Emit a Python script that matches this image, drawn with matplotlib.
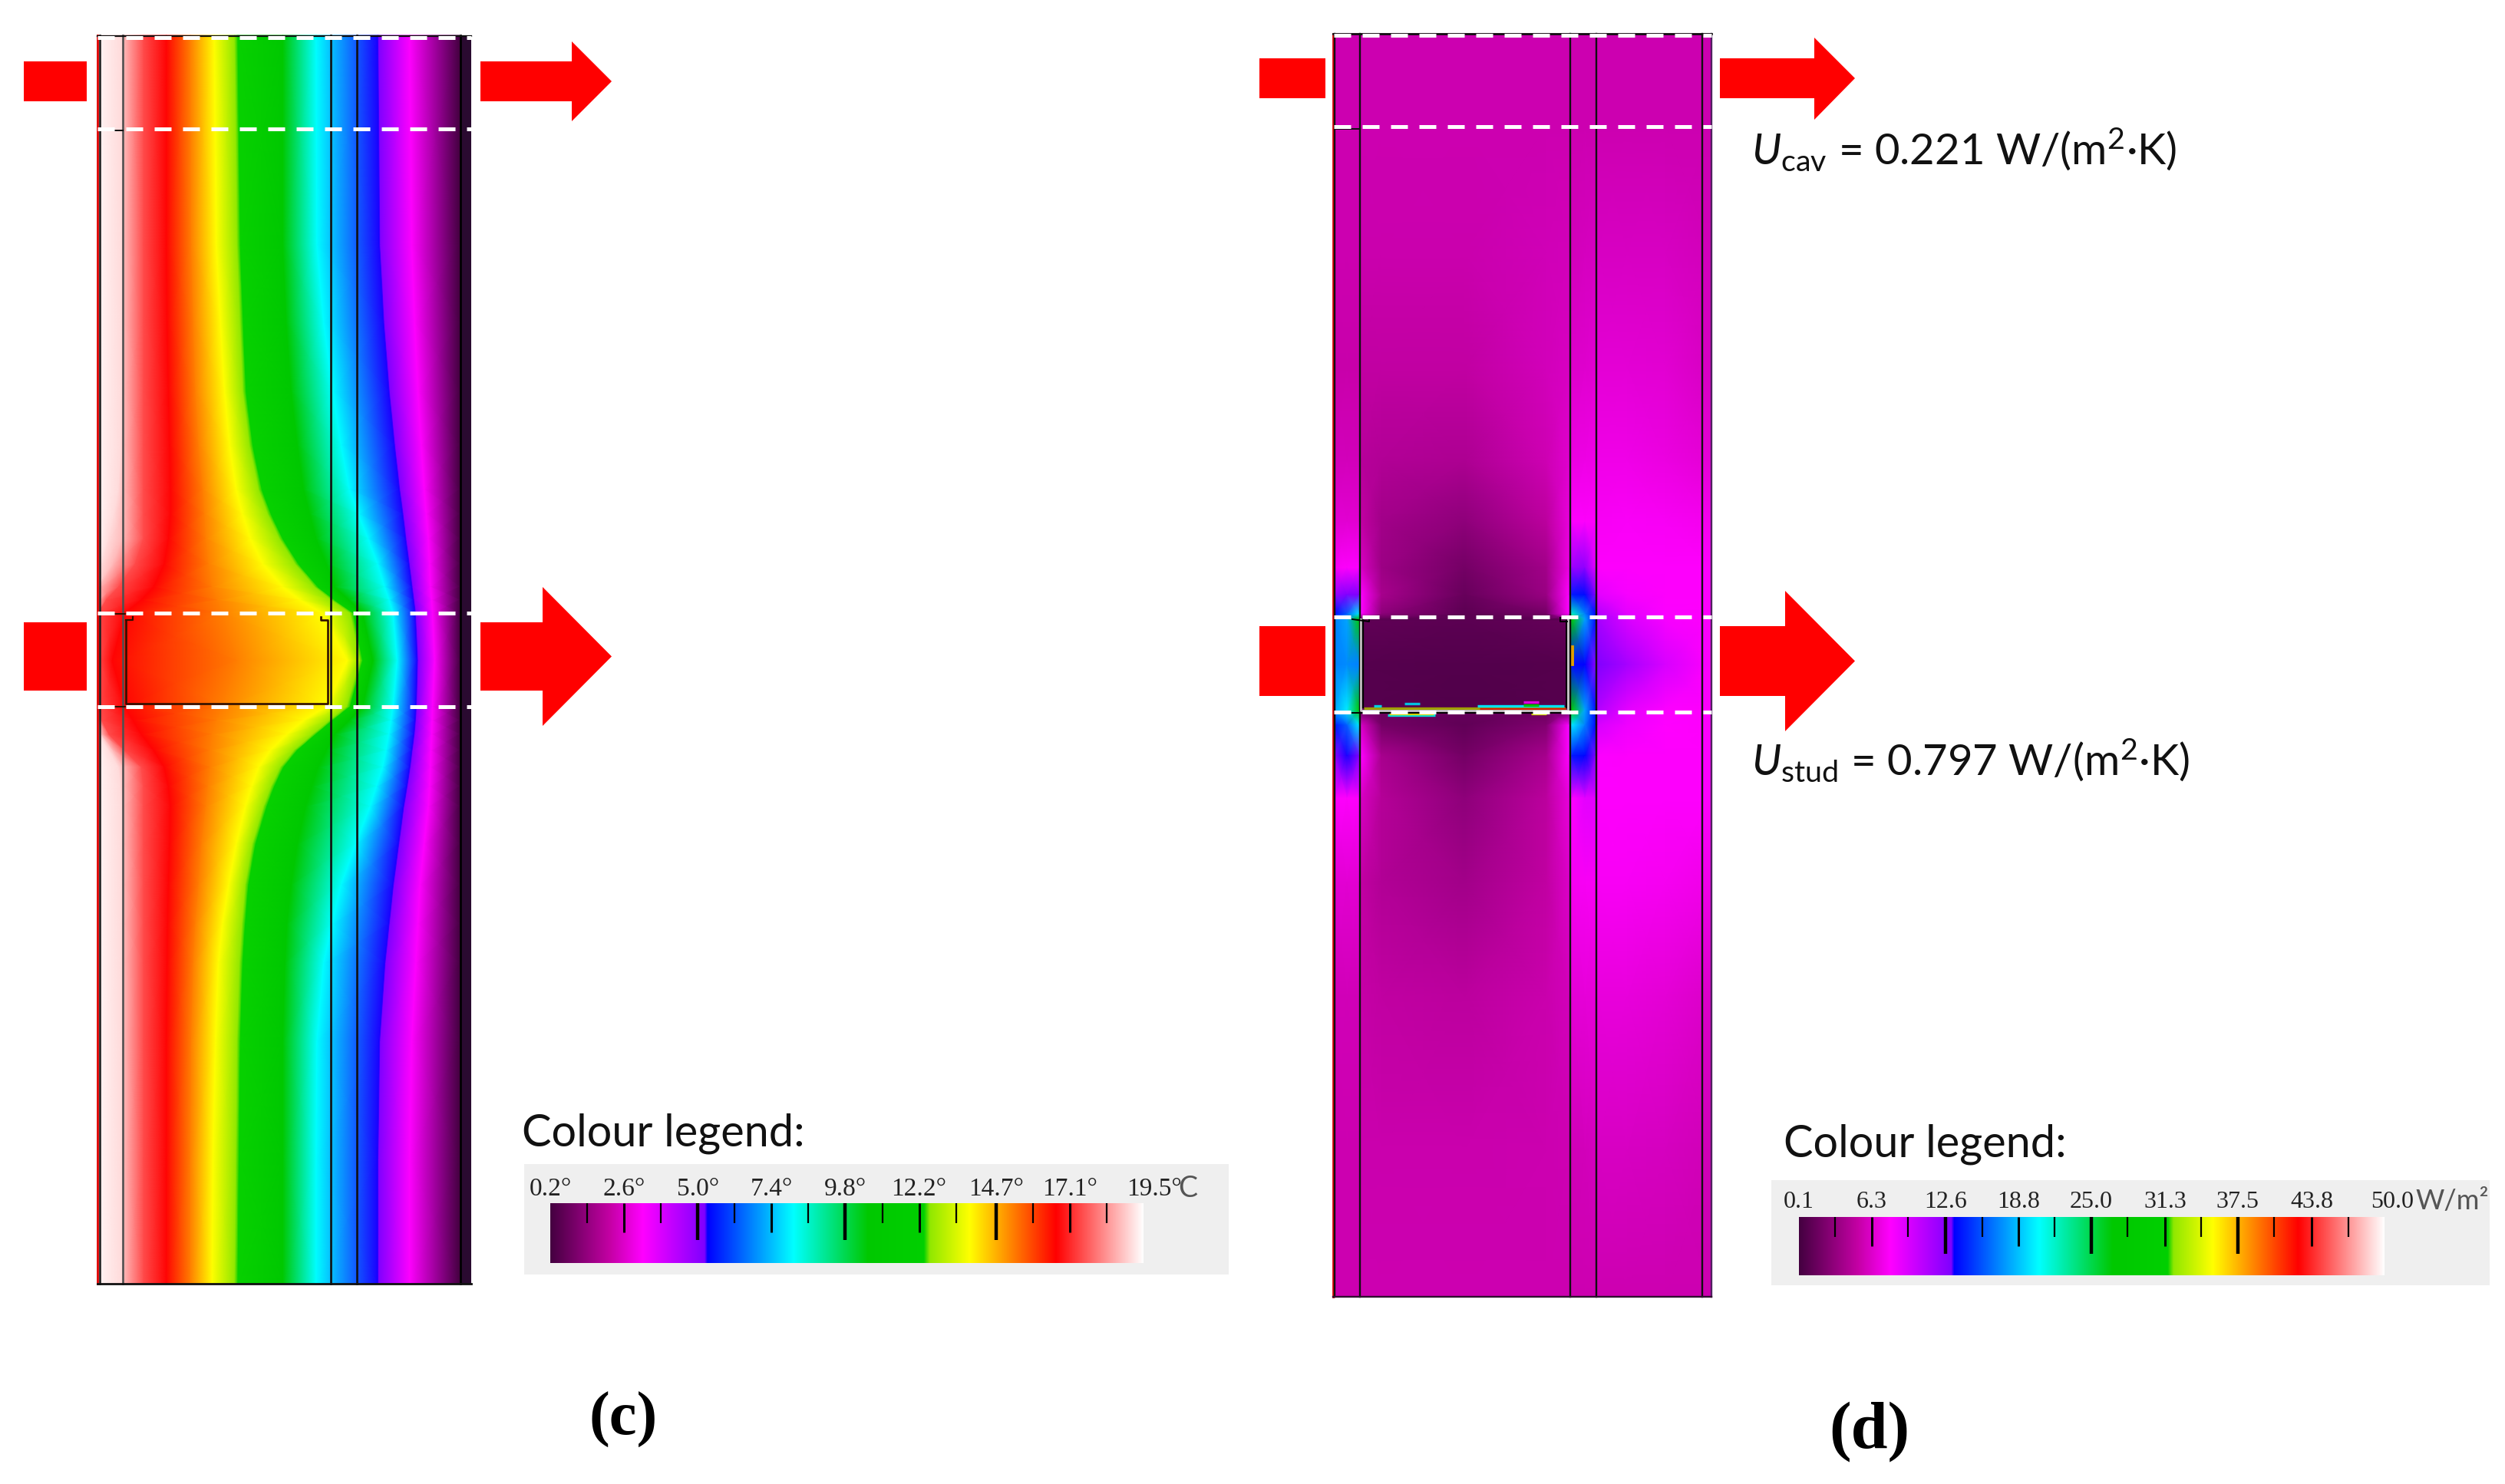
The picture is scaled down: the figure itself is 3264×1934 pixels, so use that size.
import numpy as np
import matplotlib
matplotlib.use("Agg")
import matplotlib.pyplot as plt
from matplotlib.colors import LinearSegmentedColormap, Normalize
from matplotlib.patches import Rectangle

plt.rcParams["font.family"] = ["Lato", "DejaVu Sans"]
plt.rcParams["mathtext.fontset"] = "custom"
plt.rcParams["mathtext.rm"] = "Lato"
plt.rcParams["mathtext.it"] = "Lato:italic"

W, H = 3264, 1934
SERIF = "Liberation Serif"

# colour scale shared by both legends (fraction of range, colour)
scale_pos = [0, .10, .156, .26, .265, .41, .536, .63, .64, .707, .853, 1.0]
scale_col = ["#440040", "#c400a4", "#ff00ff", "#7f00ff", "#0000ff", "#00ffff", "#00c800",
             "#00d000", "#90e800", "#ffff00", "#ff0000", "#ffffff"]
thermal = LinearSegmentedColormap.from_list("thermal", list(zip(scale_pos, scale_col)), N=1024)

# panel (c): x position of each isotherm, read per row (units of the zoomed crop)
ISO_SCALE = 1.845
iso_rows = [46, 319, 420, 510, 580, 638, 670, 702, 735, 765, 782, 799, 861, 921, 939, 957, 978, 1000,
            1025, 1051, 1100, 1153, 1204, 1255, 1357, 1510, 1673]
iso_temps = [19.35, 19.1, 18.7, 17.5, 16.7, 15.25, 13.85, 12.55, 12.36, 10.55, 8.1, 5.3, 5.2, 3.2, 0.2]
iso_193 = [237] * 27
iso_191 = [293, 293, 293, 293, 291, 285, 275, 262, 245, 237, 237, 237, 237, 237, 237, 240, 262, 285,
           290, 293, 293, 293, 293, 293, 293, 293, 293]
iso_187 = [298, 298, 298, 298, 298, 298, 298, 296, 272, 240, 237, 237, 237, 237, 237, 245, 272, 298,
           298, 298, 298, 298, 298, 298, 298, 298, 298]
iso_175 = [345, 345, 345, 345, 345, 345, 345, 345, 325, 285, 255, 237, 237, 237, 245, 262, 300, 340,
           345, 345, 345, 345, 345, 345, 345, 345, 345]
iso_167 = [400, 400, 402, 405, 408, 410, 410, 405, 395, 370, 340, 300, 270, 300, 320, 340, 370, 395,
           405, 410, 408, 405, 403, 402, 400, 400, 400]
iso_152 = [458, 460, 465, 470, 478, 488, 492, 495, 502, 510, 522, 535, 570, 535, 520, 510, 505, 505,
           500, 495, 485, 478, 470, 465, 460, 458, 458]
iso_138 = [515, 520, 530, 540, 552, 568, 583, 602, 632, 680, 722, 775, 835, 785, 730, 690, 650, 622,
           605, 590, 568, 550, 535, 525, 518, 512, 510]
iso_125 = [564, 570, 577, 584, 600, 622, 644, 672, 710, 757, 797, 842, 865, 834, 792, 752, 707, 674,
           652, 634, 607, 590, 582, 576, 570, 567, 564]
iso_123 = [572, 578, 585, 592, 608, 630, 652, 680, 718, 765, 805, 850, 872, 842, 800, 760, 715, 682,
           660, 642, 615, 598, 590, 584, 578, 575, 572]
iso_105 = [680, 680, 688, 700, 715, 730, 745, 760, 785, 805, 840, 872, 897, 872, 840, 805, 785, 765,
           750, 735, 715, 700, 690, 685, 680, 680, 680]
iso_081 = [760, 762, 778, 800, 820, 840, 862, 885, 908, 925, 936, 945, 955, 945, 940, 935, 928, 920,
           905, 890, 855, 820, 798, 778, 762, 760, 760]
iso_053 = [908, 912, 922, 935, 948, 960, 968, 975, 983, 990, 994, 998, 1003, 1000, 998, 995, 990, 985,
           978, 970, 958, 945, 935, 925, 912, 908, 908]
iso_052 = [911, 915, 925, 938, 951, 963, 971, 978, 986, 993, 997, 1001, 1006, 1003, 1001, 998, 993, 988,
           981, 973, 961, 948, 938, 928, 915, 911, 911]
iso_032 = [985, 990, 997, 1005, 1013, 1020, 1025, 1030, 1033, 1035, 1038, 1040, 1045, 1040, 1039, 1038, 1036, 1035,
           1033, 1030, 1020, 1010, 1005, 1000, 990, 985, 985]
iso_002 = [1105] * 27

# panel (d): heat flux in W/m2 at grid nodes
flux_x = [1739, 1755, 1771, 1774, 1800, 1908, 2015, 2044, 2048, 2065, 2079, 2082, 2120, 2170, 2230]
flux_y = [44, 165, 330, 480, 600, 680, 740, 775, 800, 807, 866, 925, 945, 985, 1040, 1150, 1300, 1500, 1690]
flux_vals = [
    [5.5, 5.5, 5.5, 5.5, 5.5, 5.5, 5.5, 5.5, 5.5, 5.5, 5.5, 5.5, 5.5, 5.5, 5.5],
    [5.5, 5.5, 5.5, 5.5, 5.5, 5.5, 5.5, 5.5, 5.5, 5.5, 5.5, 5.5, 5.5, 5.5, 5.5],
    [5.5, 5.5, 5.5, 5.4, 5.4, 5.4, 5.7, 5.8, 5.8, 5.9, 6.0, 6.0, 6.0, 6.0, 5.8],
    [5.3, 5.3, 5.3, 5.0, 5.0, 5.0, 5.8, 6.0, 6.3, 6.4, 6.5, 6.6, 6.6, 6.5, 6.0],
    [5.8, 5.8, 5.8, 4.6, 4.4, 4.2, 5.6, 6.4, 7.0, 7.1, 7.2, 7.2, 7.2, 7.0, 6.6],
    [6.5, 6.5, 6.5, 5.0, 3.8, 3.0, 4.8, 6.8, 7.8, 7.8, 7.8, 7.6, 7.7, 7.6, 7.4],
    [7.6, 7.8, 8.0, 6.0, 3.6, 2.0, 3.8, 7.0, 12.0, 12.5, 9.0, 7.8, 7.8, 7.8, 7.8],
    [12.0, 13.0, 13.0, 7.8, 4.0, 1.5, 3.5, 7.8, 14.0, 13.6, 13.0, 9.0, 8.2, 7.8, 7.8],
    [13.6, 16.0, 20.0, 7.8, 3.0, 1.0, 2.0, 7.8, 22.0, 17.0, 13.6, 11.0, 9.0, 8.0, 7.8],
    [17.0, 18.0, 28.0, 1.0, 1.0, 1.0, 1.0, 1.0, 30.0, 18.0, 13.8, 11.5, 9.5, 8.2, 7.8],
    [17.0, 17.3, 17.0, 1.0, 1.0, 1.0, 1.0, 1.0, 13.6, 13.4, 12.5, 13.0, 11.5, 9.5, 7.8],
    [18.0, 20.0, 28.0, 1.5, 1.5, 1.5, 1.5, 1.5, 30.0, 18.0, 13.8, 11.0, 9.0, 8.0, 7.8],
    [14.0, 16.0, 20.0, 6.0, 2.0, 1.2, 2.5, 8.0, 20.0, 17.0, 13.6, 9.5, 8.5, 7.9, 7.8],
    [12.5, 13.3, 13.0, 7.8, 4.0, 2.0, 4.0, 7.8, 14.0, 13.5, 13.0, 8.0, 7.8, 7.8, 7.8],
    [7.8, 7.8, 7.8, 6.0, 4.5, 3.0, 4.8, 6.8, 7.9, 9.0, 9.0, 7.8, 7.8, 7.8, 7.8],
    [6.5, 6.5, 6.5, 5.0, 4.4, 3.8, 5.0, 6.2, 7.5, 7.6, 7.6, 7.6, 7.6, 7.5, 7.2],
    [5.7, 5.7, 5.7, 5.2, 5.0, 4.8, 5.4, 5.8, 6.6, 6.7, 6.7, 6.8, 6.8, 6.6, 6.2],
    [5.5, 5.5, 5.5, 5.4, 5.4, 5.4, 5.5, 5.6, 5.7, 5.8, 5.9, 6.0, 6.0, 5.9, 5.7],
    [5.5, 5.5, 5.5, 5.5, 5.5, 5.5, 5.5, 5.5, 5.5, 5.5, 5.5, 5.5, 5.5, 5.5, 5.5],
]
stud_flux_x = [1776, 1908, 2042]
stud_flux_y = [809, 866, 922]
stud_flux = [[1.2, 1.0, 1.4], [0.8, 0.7, 0.8], [0.8, 0.6, 0.8]]

# thin speckled band along the lower flange (x0, x1, y, colour)
speck_x0 = [1777, 1928, 1790, 1830, 1925, 1985, 1985, 1808, 1810, 1995]
speck_x1 = [2040, 2040, 1800, 1850, 2038, 2005, 2005, 1870, 1868, 2015]
speck_y = [923, 924, 920, 917, 920, 915, 919, 932, 930, 930]
speck_col = ["#a0a000", "#d02000", "#00d0e0", "#00c0e0", "#00e0f0", "#e000e0", "#00c000", "#00e0e0", "#d0d000", "#d0d000"]

# legends
temp_labels = ["0.2°", "2.6°", "5.0°", "7.4°", "9.8°", "12.2°", "14.7°", "17.1°"]
temp_label_vals = [0.2, 2.6, 5.0, 7.4, 9.8, 12.2, 14.7, 17.1]
temp_long = [5.0, 9.8, 14.7]
temp_mid = [2.6, 7.4, 12.2, 17.1]
temp_short = [1.4, 3.8, 6.2, 8.6, 11.0, 13.4, 15.9, 18.3]
flux_labels = ["0.1", "6.3", "12.6", "18.8", "25.0", "31.3", "37.5", "43.8"]
flux_label_vals = [0.1, 6.3, 12.6, 18.8, 25.0, 31.3, 37.5, 43.8]
flux_long = [12.6, 25.0, 37.5]
flux_mid = [6.3, 18.8, 31.3, 43.8]
flux_short = [3.2, 9.4, 15.7, 21.9, 28.1, 34.4, 40.6, 46.9]


def red_arrow(ax, x0, x1, xh, y0, y1, ytop, ybot):
    ax.fill([x0, xh, xh, x1, xh, xh, x0], [y0, y0, ytop, (y0 + y1) / 2, ybot, y1, y1],
            color="#ff0000", lw=0, zorder=5)


def dashes(ax, x0, x1, ys):
    for y in ys:
        ax.plot([x0, x1], [y, y], color="white", lw=3.6, ls=(0, (4.4, 3.0)),
                dash_capstyle="butt", zorder=6)


def legend_bar(fig, box, bar, vmin, vmax, long_, mid, short, labels, label_vals, label_y, size):
    # box: grey panel, bar: colour strip, both left, right, top, bottom in pixels
    fig.axes[0].add_patch(Rectangle((box[0], box[2]), box[1] - box[0], box[3] - box[2],
                                    color="#efefef", lw=0, zorder=1))
    bx = fig.add_axes([bar[0] / W, 1 - bar[3] / H, (bar[1] - bar[0]) / W, (bar[3] - bar[2]) / H])
    vals = np.linspace(vmin, vmax, 1024)
    bx.imshow(vals[None, :], cmap=thermal, aspect="auto", extent=[vmin, vmax, 1, 0], vmin=vmin, vmax=vmax)
    hgt = bar[3] - bar[2]
    bx.vlines(short, 0, 26 / hgt, color="black", lw=1.6)
    bx.vlines(mid, 0, 38 / hgt, color="black", lw=2.2)
    bx.vlines(long_, 0, 48 / hgt, color="black", lw=3.2)
    bx.set_xlim(vmin, vmax)
    bx.set_ylim(1, 0)
    bx.axis("off")
    trans = bx.get_xaxis_transform()
    for val, lab in zip(label_vals, labels):
        bx.text(val, 1 + (bar[2] - label_y) / hgt, lab, transform=trans, ha="center", va="center",
                family=SERIF, fontsize=size, color="#222222", clip_on=False)
    return bx


fig = plt.figure(figsize=(W / 100, H / 100), dpi=100, facecolor="white")
ax = fig.add_axes([0, 0, 1, 1])
ax.set_xlim(0, W)
ax.set_ylim(H, 0)
ax.axis("off")

# ---- panel (c)
temp_norm = Normalize(0.2, 19.5)
iso_x = np.array([iso_193, iso_191, iso_187, iso_175, iso_167, iso_152, iso_138, iso_125, iso_123,
                  iso_105, iso_081, iso_053, iso_052, iso_032, iso_002], dtype=float).T / ISO_SCALE
iso_y = np.tile(np.array(iso_rows, dtype=float)[:, None], (1, len(iso_temps)))
iso_c = np.tile(np.array(iso_temps), (len(iso_rows), 1))
ax.pcolormesh(iso_x, iso_y, iso_c, cmap=thermal, norm=temp_norm, shading="gouraud", zorder=2)
ax.add_patch(Rectangle((599, 46), 15, 1627, color="#2a0a30", lw=0, zorder=2))

ax.plot([127, 127], [46, 1673], color="#e00000", lw=2, zorder=3)
for x, col in zip([129.5, 160, 431, 464.5, 600], ["#202020", "#505050", "#101010", "#101010", "#000000"]):
    ax.plot([x, x], [46, 1673], color=col, lw=1.9, zorder=3)
ax.plot([127, 614], [1673, 1673], color="#101010", lw=2, zorder=3)
ax.plot([127, 614], [47, 47], color="#101010", lw=1.6, zorder=3)
ax.plot([129, 160], [170, 170], color="#101010", lw=1.4, zorder=3)
ax.plot([164, 164, 427, 427, 418, 418], [808, 917, 917, 808, 808, 804], color="#301000", lw=1.9, zorder=4)
ax.plot([164, 173, 173], [808, 808, 804], color="#301000", lw=1.6, zorder=4)
ax.plot([129, 163], [800, 800], color="#301000", lw=1.4, zorder=4)
ax.plot([129, 163], [921, 921], color="#301000", lw=1.4, zorder=4)
dashes(ax, 127, 614, [49, 168, 799, 921])

ax.add_patch(Rectangle((31, 80), 82, 52, color="#ff0000", lw=0, zorder=5))
ax.add_patch(Rectangle((31, 811), 82, 89, color="#ff0000", lw=0, zorder=5))
red_arrow(ax, 626, 797, 745, 80, 132, 54, 158)
red_arrow(ax, 626, 797, 707, 811, 900, 765, 946)

# ---- panel (d)
flux_norm = Normalize(0.1, 50.0)
fx, fy = np.meshgrid(flux_x, flux_y)
ax.pcolormesh(fx, fy, np.array(flux_vals), cmap=thermal, norm=flux_norm, shading="gouraud", zorder=2)
sx, sy = np.meshgrid(stud_flux_x, stud_flux_y)
ax.pcolormesh(sx, sy, np.array(stud_flux), cmap=thermal, norm=flux_norm, shading="gouraud", zorder=3)
for x0, x1, y, col in zip(speck_x0, speck_x1, speck_y, speck_col):
    ax.plot([x0, x1], [y, y], color=col, lw=2.4, solid_capstyle="butt", zorder=3)
ax.plot([2048, 2048], [843, 865], color="#e0a000", lw=3.5, zorder=3)

ax.plot([1737, 1737], [44, 1690], color="#e00000", lw=2, zorder=3)
for x in [1739, 1772, 2046, 2080, 2218]:
    ax.plot([x, x], [44, 1690], color="#101010", lw=1.7, zorder=3)
ax.plot([2230, 2230], [44, 1690], color="#502060", lw=1.7, zorder=3)
ax.plot([1737, 2230], [1690, 1690], color="#301030", lw=1.7, zorder=3)
ax.plot([1737, 2230], [44, 44], color="#101010", lw=2, zorder=3)
ax.plot([1739, 1772], [168, 168], color="#101010", lw=1.4, zorder=3)
ax.plot([1773, 1773, 2043, 2043], [807, 926, 926, 807], color="#c8c8c8", lw=2.0, zorder=4)
ax.plot([1776, 1776], [807, 922], color="black", lw=1.6, zorder=4)
ax.plot([2041, 2041], [809, 922], color="black", lw=1.4, zorder=4)
ax.plot([1762, 1784, 1784], [807, 810, 807], color="black", lw=1.4, zorder=4)
ax.plot([2033, 2033, 2042], [805, 810, 810], color="black", lw=1.4, zorder=4)
ax.plot([1762, 2040], [929, 929], color="black", lw=1.4, zorder=4)
dashes(ax, 1738, 2230, [46, 165, 804, 928])

ax.add_patch(Rectangle((1641, 76), 86, 52, color="#ff0000", lw=0, zorder=5))
ax.add_patch(Rectangle((1641, 816), 86, 91, color="#ff0000", lw=0, zorder=5))
red_arrow(ax, 2241, 2417, 2364, 76, 128, 49, 156)
red_arrow(ax, 2241, 2417, 2326, 816, 907, 770, 953)

# ---- legends and text
ax.text(680, 1494, "Colour legend:", fontsize=41.5, ha="left", va="baseline", color="#111111")
ax.text(2324, 1507, "Colour legend:", fontsize=41.5, ha="left", va="baseline", color="#111111")
legend_bar(fig, (683, 1601, 1517, 1661), (717, 1490, 1568, 1646), 0.2, 19.5,
           temp_long, temp_mid, temp_short, temp_labels, temp_label_vals, 1550, 24)
legend_bar(fig, (2308, 3244, 1538, 1675), (2344, 3107, 1586, 1662), 0.1, 50.0,
           flux_long, flux_mid, flux_short, flux_labels, flux_label_vals, 1567, 23)
ax.text(1468, 1550, "19.5°", family=SERIF, fontsize=24, ha="left", va="center", color="#222222", zorder=6)
ax.text(1535, 1549, "C", fontsize=27, ha="left", va="center", color="#555555", zorder=6)
ax.text(3089, 1567, "50.0", family=SERIF, fontsize=23, ha="left", va="center", color="#222222", zorder=6)
ax.text(3147, 1565, "W/m²", fontsize=26, ha="left", va="center", color="#555555", zorder=6)

ax.text(2282, 214, r"$\mathit{U}_{\mathrm{cav}}$ = 0.221 W/(m$^{2}$·K)", fontsize=40.5, ha="left",
        va="baseline", color="#111111")
ax.text(2282, 1010, r"$\mathit{U}_{\mathrm{stud}}$ = 0.797 W/(m$^{2}$·K)", fontsize=40.5, ha="left",
        va="baseline", color="#111111")
ax.text(812, 1850, "(c)", family=SERIF, weight="bold", fontsize=58, ha="center", va="center", color="black")
ax.text(2436, 1866, "(d)", family=SERIF, weight="bold", fontsize=62, ha="center", va="center", color="black")

fig.savefig("out.png", dpi=100)
plt.close(fig)
